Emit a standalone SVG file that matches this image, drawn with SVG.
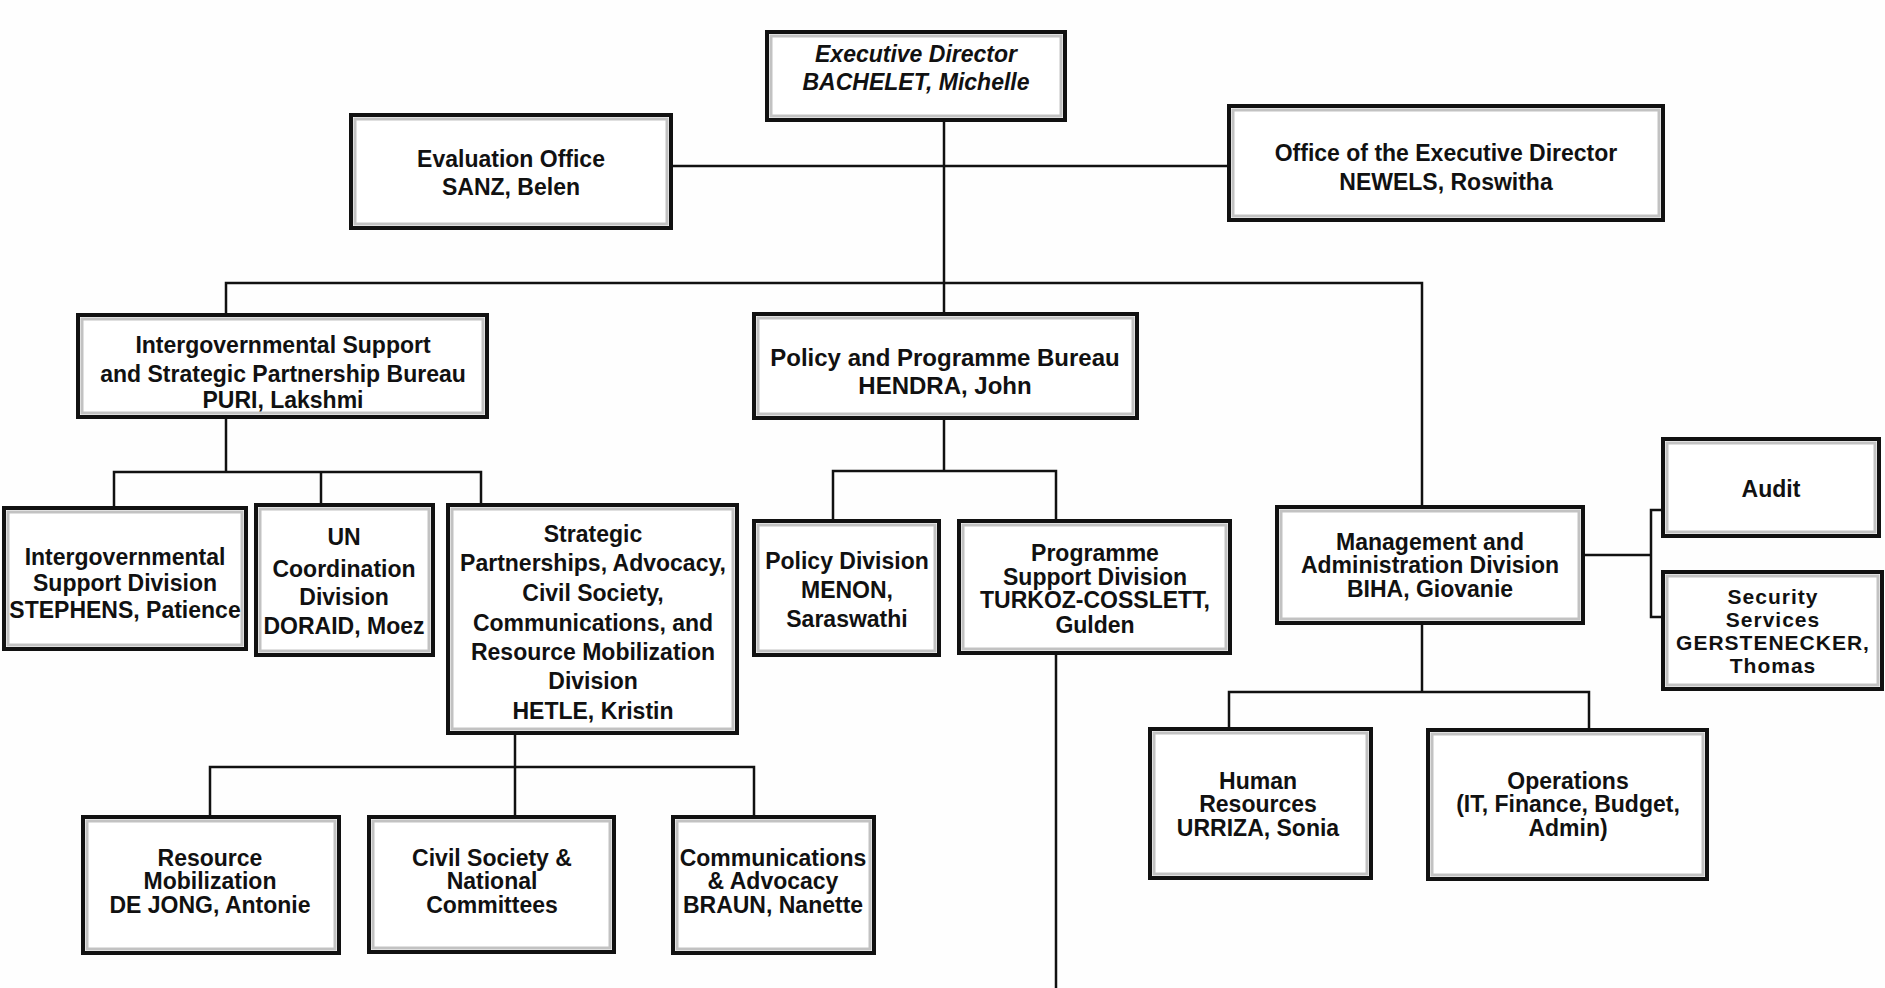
<svg xmlns="http://www.w3.org/2000/svg" width="1885" height="988" viewBox="0 0 1885 988">
<style>
.bg{fill:#fefefe}
.box{fill:#fff;stroke:#111;stroke-width:4}
.halo{fill:none;stroke:#9a9a9a;stroke-width:3;opacity:.6}
.ln{fill:none;stroke:#111;stroke-width:2.5}
text{font-family:"Liberation Sans",Arial,sans-serif;font-weight:bold;font-size:23px;fill:#111;text-anchor:middle}
.it{font-style:italic}
.sm{font-size:21px;letter-spacing:1px}
</style>
<rect class="bg" x="0" y="0" width="1885" height="988"/>
<g id="connectors">
<path class="ln" d="M944 120 V314"/>
<path class="ln" d="M671 166 H1229"/>
<path class="ln" d="M226 315 V283 H1422 V507"/>
<path class="ln" d="M226 417 V472"/>
<path class="ln" d="M114 508 V472 H481 V505"/>
<path class="ln" d="M321 472 V505"/>
<path class="ln" d="M515 733 V817"/>
<path class="ln" d="M210 817 V767 H754 V817"/>
<path class="ln" d="M944 418 V471"/>
<path class="ln" d="M833 521 V471 H1056 V521"/>
<path class="ln" d="M1056 653 V988"/>
<path class="ln" d="M1422 623 V692"/>
<path class="ln" d="M1229 729 V692 H1589 V730"/>
<path class="ln" d="M1583 555 H1651"/>
<path class="ln" d="M1663 510 H1651 V617 H1663"/>
</g>
<g id="exec"><rect class="box" x="767" y="32" width="298" height="88"/><rect class="halo" x="771" y="36" width="290" height="80"/>
<text class="it" x="916" y="62">Executive Director</text><text class="it" x="916" y="90">BACHELET, Michelle</text></g>
<g id="eval"><rect class="box" x="351" y="115" width="320" height="113"/><rect class="halo" x="355" y="119" width="312" height="105"/>
<text x="511" y="167">Evaluation Office</text><text x="511" y="195">SANZ, Belen</text></g>
<g id="oed"><rect class="box" x="1229" y="106" width="434" height="114"/><rect class="halo" x="1233" y="110" width="426" height="106"/>
<text x="1446" y="161">Office of the Executive Director</text><text x="1446" y="190">NEWELS, Roswitha</text></g>
<g id="igsp"><rect class="box" x="78" y="315" width="409" height="102"/><rect class="halo" x="82" y="319" width="401" height="94"/>
<text x="283" y="353">Intergovernmental Support</text><text x="283" y="382">and Strategic Partnership Bureau</text><text x="283" y="408">PURI, Lakshmi</text></g>
<g id="ppb"><rect class="box" x="754" y="314" width="383" height="104"/><rect class="halo" x="758" y="318" width="375" height="96"/>
<text x="945" y="366" style="font-size:24px">Policy and Programme Bureau</text><text x="945" y="394" style="font-size:24px">HENDRA, John</text></g>
<g id="isd"><rect class="box" x="4" y="508" width="242" height="141"/><rect class="halo" x="8" y="512" width="234" height="133"/>
<text x="125" y="565">Intergovernmental</text><text x="125" y="591">Support Division</text><text x="125" y="618">STEPHENS, Patience</text></g>
<g id="unc"><rect class="box" x="256" y="505" width="177" height="150"/><rect class="halo" x="260" y="509" width="169" height="142"/>
<text x="344" y="545">UN</text><text x="344" y="577">Coordination</text><text x="344" y="605">Division</text><text x="344" y="634">DORAID, Moez</text></g>
<g id="spd"><rect class="box" x="448" y="505" width="289" height="228"/><rect class="halo" x="452" y="509" width="281" height="220"/>
<text x="593" y="542">Strategic</text><text x="593" y="571">Partnerships, Advocacy,</text><text x="593" y="601">Civil Society,</text><text x="593" y="631">Communications, and</text><text x="593" y="660">Resource Mobilization</text><text x="593" y="689">Division</text><text x="593" y="719">HETLE, Kristin</text></g>
<g id="pd"><rect class="box" x="754" y="521" width="185" height="134"/><rect class="halo" x="758" y="525" width="177" height="126"/>
<text x="847" y="569">Policy Division</text><text x="847" y="598">MENON,</text><text x="847" y="627">Saraswathi</text></g>
<g id="psd"><rect class="box" x="959" y="521" width="271" height="132"/><rect class="halo" x="963" y="525" width="263" height="124"/>
<text x="1095" y="561">Programme</text><text x="1095" y="585">Support Division</text><text x="1095" y="608">TURKOZ-COSSLETT,</text><text x="1095" y="633">Gulden</text></g>
<g id="mad"><rect class="box" x="1277" y="507" width="306" height="116"/><rect class="halo" x="1281" y="511" width="298" height="108"/>
<text x="1430" y="550">Management and</text><text x="1430" y="573">Administration Division</text><text x="1430" y="597">BIHA, Giovanie</text></g>
<g id="audit"><rect class="box" x="1663" y="439" width="216" height="97"/><rect class="halo" x="1667" y="443" width="208" height="89"/>
<text x="1771" y="497">Audit</text></g>
<g id="sec"><rect class="box" x="1663" y="572" width="219" height="117"/><rect class="halo" x="1667" y="576" width="211" height="109"/>
<text class="sm" x="1773" y="604">Security</text><text class="sm" x="1773" y="627">Services</text><text class="sm" x="1773" y="650">GERSTENECKER,</text><text class="sm" x="1773" y="673">Thomas</text></g>
<g id="rm"><rect class="box" x="83" y="817" width="256" height="136"/><rect class="halo" x="87" y="821" width="248" height="128"/>
<text x="210" y="866">Resource</text><text x="210" y="889">Mobilization</text><text x="210" y="913">DE JONG, Antonie</text></g>
<g id="cs"><rect class="box" x="369" y="817" width="245" height="135"/><rect class="halo" x="373" y="821" width="237" height="127"/>
<text x="492" y="866">Civil Society &amp;</text><text x="492" y="889">National</text><text x="492" y="913">Committees</text></g>
<g id="ca"><rect class="box" x="673" y="817" width="201" height="136"/><rect class="halo" x="677" y="821" width="193" height="128"/>
<text x="773" y="866">Communications</text><text x="773" y="889">&amp; Advocacy</text><text x="773" y="913">BRAUN, Nanette</text></g>
<g id="hr"><rect class="box" x="1150" y="729" width="221" height="149"/><rect class="halo" x="1154" y="733" width="213" height="141"/>
<text x="1258" y="789">Human</text><text x="1258" y="812">Resources</text><text x="1258" y="836">URRIZA, Sonia</text></g>
<g id="ops"><rect class="box" x="1428" y="730" width="279" height="149"/><rect class="halo" x="1432" y="734" width="271" height="141"/>
<text x="1568" y="789">Operations</text><text x="1568" y="812">(IT, Finance, Budget,</text><text x="1568" y="836">Admin)</text></g>
</svg>
